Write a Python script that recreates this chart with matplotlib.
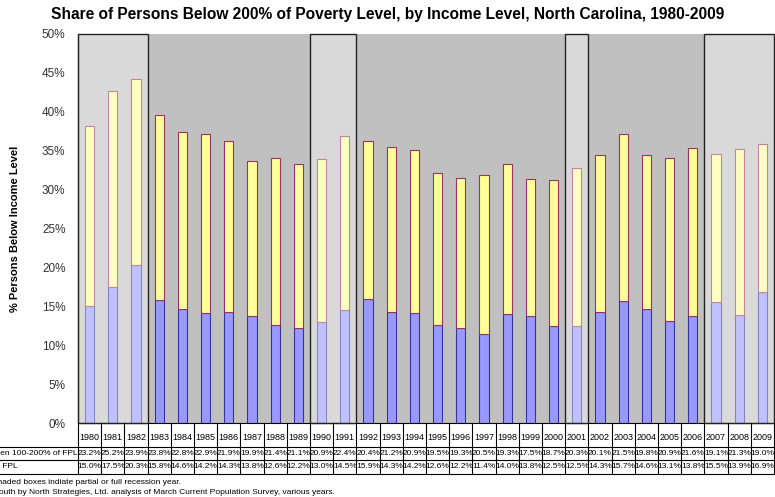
import numpy as np
import matplotlib.pyplot as plt
from matplotlib.patches import Rectangle
from matplotlib.ticker import PercentFormatter

plt.rcParams['font.family'] = ['Liberation Sans', 'DejaVu Sans']

# ---------------------------
# Data (read off the chart's data table)
# ---------------------------
years = list(range(1980, 2010))
below_fpl = [15.0, 17.5, 20.3, 15.8, 14.6, 14.2, 14.3, 13.8, 12.6, 12.2,
             13.0, 14.5, 15.9, 14.3, 14.2, 12.6, 12.2, 11.4, 14.0, 13.8,
             12.5, 12.5, 14.3, 15.7, 14.6, 13.1, 13.8, 15.5, 13.9, 16.9]
between_100_200 = [23.2, 25.2, 23.9, 23.8, 22.8, 22.9, 21.9, 19.9, 21.4, 21.1,
                   20.9, 22.4, 20.4, 21.2, 20.9, 19.5, 19.3, 20.5, 19.3, 17.5,
                   18.7, 20.3, 20.1, 21.5, 19.8, 20.9, 21.6, 19.1, 21.3, 19.0]
recessions = [(1980, 1982), (1990, 1991), (2001, 2001), (2007, 2009)]
row_labels = ["Between 100-200% of FPL", "Below FPL"]

W, H = 775, 497
fig = plt.figure(figsize=(W / 100, H / 100), dpi=100)

def fx(px):
    return px / W

def fy(py):
    return 1 - py / H

left, right, top, bottom = 78, 774, 34, 423
ax = fig.add_axes([fx(left), fy(bottom), fx(right - left), fy(top) - fy(bottom)])

n = len(years)
x = np.arange(n)
lo = np.array(below_fpl)
hi = np.array(between_100_200)

ax.set_facecolor('#c0c0c0')
ax.bar(x, lo, width=0.4, color='#9999ff', edgecolor='#333399', linewidth=0.8, zorder=2)
ax.bar(x, hi, width=0.4, bottom=lo, color='#ffff99', edgecolor='#993366', linewidth=0.8, zorder=2)

# recession boxes: light overlay + dark outline
for y0, y1 in recessions:
    i0, i1 = years.index(y0), years.index(y1)
    ax.add_patch(Rectangle((i0 - 0.5, 0), i1 - i0 + 1, 50, facecolor='white',
                           alpha=0.4, edgecolor='none', zorder=3))
    ax.add_patch(Rectangle((i0 - 0.5, 0), i1 - i0 + 1, 50, facecolor='none',
                           edgecolor='#222222', linewidth=1.0, zorder=4, clip_on=False))

ax.set_xlim(-0.5, n - 0.5)
ax.set_ylim(0, 50)
ax.set_yticks(np.arange(0, 51, 5))
ax.yaxis.set_major_formatter(PercentFormatter(decimals=0))
ax.tick_params(axis='y', length=0, pad=9, labelsize=8.5, labelcolor='#333333')
ax.set_xticks([])
for s in ['top', 'right']:
    ax.spines[s].set_visible(False)
ax.spines['left'].set_color('black')
ax.spines['bottom'].set_color('black')

# ---------------------------
# Data table below the plot
# ---------------------------
colw = (right - left) / n
rows_y = [423, 447, 460, 474]
line_kw = dict(color='black', linewidth=0.8)
for i in range(n + 1):
    xp = fx(left + i * colw)
    fig.add_artist(plt.Line2D([xp, xp], [fy(rows_y[0]), fy(rows_y[-1])], **line_kw))
for yp in rows_y[1:]:
    fig.add_artist(plt.Line2D([0, fx(right + 2)], [fy(yp), fy(yp)], **line_kw))

for i in range(n):
    cx = fx(left + (i + 0.5) * colw)
    fig.text(cx, fy(437), str(years[i]), ha='center', va='center', fontsize=6.5)
    fig.text(cx, fy(453.5), f"{hi[i]:.1f}%", ha='center', va='center', fontsize=6)
    fig.text(cx, fy(467), f"{lo[i]:.1f}%", ha='center', va='center', fontsize=6)

fig.text(fx(-23), fy(453.5), row_labels[0], ha='left', va='center', fontsize=6)
fig.text(fx(-23), fy(467), row_labels[1], ha='left', va='center', fontsize=6)

fig.text(fx(-8), fy(482), "Shaded boxes indiate partial or full recession year.",
         ha='left', va='center', fontsize=6)
fig.text(fx(-38), fy(492), "Source: South by North Strategies, Ltd. analysis of March Current Population Survey, various years.",
         ha='left', va='center', fontsize=6)

fig.text(0.5, fy(15), "Share of Persons Below 200% of Poverty Level, by Income Level, North Carolina, 1980-2009",
         ha='center', va='center', fontsize=11.2, fontweight='bold')
fig.text(fx(15), fy(229), "% Persons Below Income Level", rotation=90,
         ha='center', va='center', fontsize=8, fontweight='bold')

fig.savefig('out.png', dpi=100)
